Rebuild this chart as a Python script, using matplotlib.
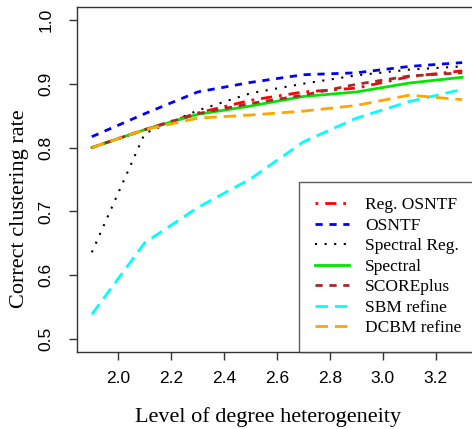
import matplotlib
matplotlib.use("Agg")
import matplotlib.pyplot as plt

x = [1.9, 2.1, 2.3, 2.5, 2.7, 2.9, 3.1, 3.3]

reg_osntf = [0.800, 0.828, 0.854, 0.874, 0.887, 0.893, 0.911, 0.920]
osntf     = [0.817, 0.853, 0.887, 0.902, 0.914, 0.917, 0.927, 0.933]
spec_reg  = [0.636, 0.822, 0.858, 0.885, 0.900, 0.913, 0.922, 0.927]
spectral  = [0.800, 0.828, 0.852, 0.865, 0.880, 0.887, 0.901, 0.910]
scoreplus = [0.800, 0.828, 0.853, 0.869, 0.882, 0.899, 0.912, 0.917]
sbm       = [0.539, 0.651, 0.706, 0.751, 0.809, 0.846, 0.872, 0.891]
dcbm      = [0.800, 0.828, 0.846, 0.851, 0.857, 0.866, 0.882, 0.875]

labels = ["Reg. OSNTF", "OSNTF", "Spectral Reg.", "Spectral",
          "SCOREplus", "SBM refine", "DCBM refine"]
xticks = [2.0, 2.2, 2.4, 2.6, 2.8, 3.0, 3.2]
yticks = [0.5, 0.6, 0.7, 0.8, 0.9, 1.0]

W, H = 472, 429
fig = plt.figure(figsize=(W / 100, H / 100), dpi=100)
left, right, top, bottom = 77, 477, 7, 352
ax = fig.add_axes([left / W, 1 - bottom / H, (right - left) / W, (bottom - top) / H])

serif = ["Liberation Serif", "DejaVu Serif"]
sans = ["Liberation Sans", "DejaVu Sans"]

styles = [
    (reg_osntf, "#FF0000", (0, (1, 2.5, 4, 2.5)), 2.0),
    (osntf, "#0000FF", (0, (2.6, 2.4)), 2.0),
    (spec_reg, "#000000", (0, (1, 3.6)), 1.5),
    (spectral, "#00E600", "-", 2.0),
    (scoreplus, "#A52A2A", (0, (2.6, 2.4)), 2.0),
    (sbm, "#00FFFF", (0, (4.5, 2.5)), 2.0),
    (dcbm, "#FFA500", (0, (4.5, 2.5)), 2.0),
]
for (y, c, ls, lw), lab in zip(styles, labels):
    ax.plot(x, y, color=c, linestyle=ls, lw=lw, label=lab)

ax.set_xlim(1.844, 3.356)
ax.set_ylim(0.48, 1.02)
ax.set_xticks(xticks)
ax.set_yticks(yticks)
ax.set_xticklabels([f"{v:.1f}" for v in xticks], family=sans, fontsize=12.5)
ax.set_yticklabels([f"{v:.1f}" for v in yticks], family=sans, fontsize=12.5,
                   rotation=90, va="center")
ax.tick_params(axis="both", direction="out", length=6, width=1, color="#333333")
ax.tick_params(axis="x", pad=8)
ax.tick_params(axis="y", pad=11)
for s in ax.spines.values():
    s.set_color("#333333")
    s.set_linewidth(1)

ax.set_xlabel("Level of degree heterogeneity", family=serif, fontsize=16)
ax.xaxis.set_label_coords((268 - left) / (right - left), (bottom - 417) / (bottom - top))
ax.xaxis.label.set_va("center")
ax.set_ylabel("Correct clustering rate", family=serif, fontsize=16)
ax.yaxis.set_label_coords((20 - left) / (right - left), (bottom - 209) / (bottom - top))
ax.yaxis.label.set_va("center")

leg = ax.legend(loc="lower right", bbox_to_anchor=(1, 0), borderaxespad=0,
                prop={"family": serif, "size": 12.5}, frameon=True, fancybox=False,
                edgecolor="#333333", handlelength=2.0, handletextpad=0.9,
                labelspacing=0.25, borderpad=0.9)
leg.get_frame().set_linewidth(1)

fig.savefig("out.png", dpi=100)
